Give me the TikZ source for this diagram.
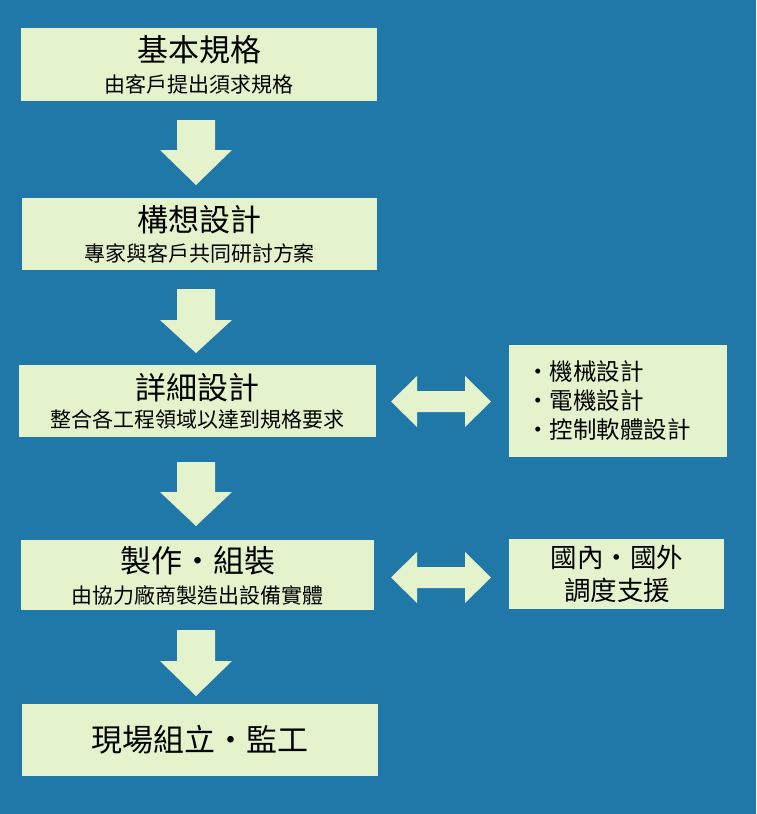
\documentclass[tikz,border=0pt]{standalone}
\usepackage{fontspec}
\setmainfont{Noto Sans CJK TC}
\definecolor{bgblue}{RGB}{32,120,168}
\definecolor{boxfill}{RGB}{228,243,204}
\tikzset{
  box/.style={fill=boxfill, draw=none, rectangle, inner sep=0pt},
  titletext/.style={inner sep=0pt, text=black, font=\fontsize{31}{34}\selectfont},
  subtext/.style={inner sep=0pt, text=black, font=\fontsize{21}{24}\selectfont},
  sidetext/.style={inner sep=0pt, text=black},
  blockarrow/.style={fill=boxfill, draw=none}
}
\begin{document}
\begin{tikzpicture}[x=1pt,y=-1pt]
\fill[bgblue] (0,0) rectangle (756,814);
\useasboundingbox (0,0) rectangle (756,814);

% main boxes
\node[box, minimum width=356pt, minimum height=73pt] (b1) at (199,64.5) {};
\node[titletext] (b1t) at (199,50) {基本規格};
\node[subtext] (b1s) at (199,84.5) {由客戶提出須求規格};

\node[box, minimum width=355pt, minimum height=72pt] (b2) at (199.5,234) {};
\node[titletext] (b2t) at (199.5,220) {構想設計};
\node[subtext] (b2s) at (199.5,253.5) {專家與客戶共同研討方案};

\node[box, minimum width=357pt, minimum height=72pt] (b3) at (197.5,401) {};
\node[titletext] (b3t) at (197.5,387.5) {詳細設計};
\node[subtext] (b3s) at (197.5,419) {整合各工程領域以達到規格要求};

\node[box, minimum width=353pt, minimum height=70pt] (b4) at (197.5,575) {};
\node[titletext] (b4t) at (197.5,561) {製作・組裝};
\node[subtext] (b4s) at (197.5,595) {由協力廠商製造出設備實體};

\node[box, minimum width=356pt, minimum height=72pt] (b5) at (200,740) {};
\node[titletext] (b5t) at (200,740) {現場組立・監工};

% side boxes
\node[box, minimum width=218pt, minimum height=112pt] (r1) at (618,401) {};
\node[sidetext, anchor=west, align=left, font=\fontsize{23.5}{29}\selectfont] (r1t) at (526,401) {・機械設計\\・電機設計\\・控制軟體設計};

\node[box, minimum width=215pt, minimum height=70pt] (r2) at (616.5,574) {};
\node[sidetext, align=center, font=\fontsize{26.5}{33}\selectfont] (r2t) at (617,573.5) {國內・國外\\調度支援};

% down arrows
\foreach \top/\hd/\tip in {120/150/185, 289/320/353, 462/492/526, 630/661/696}{
  \fill[blockarrow] (177,\top) -- (215,\top) -- (215,\hd) -- (232,\hd) -- (196,\tip) -- (160,\hd) -- (177,\hd) -- cycle;
}

% double arrows
\foreach \cy in {401.5, 577.5}{
  \fill[blockarrow] (391,\cy) -- (417,\cy-25.5) -- (417,\cy-10.5) -- (465,\cy-10.5) -- (465,\cy-25.5) -- (491,\cy)
     -- (465,\cy+25.5) -- (465,\cy+10.5) -- (417,\cy+10.5) -- (417,\cy+25.5) -- cycle;
}
\end{tikzpicture}
\end{document}
